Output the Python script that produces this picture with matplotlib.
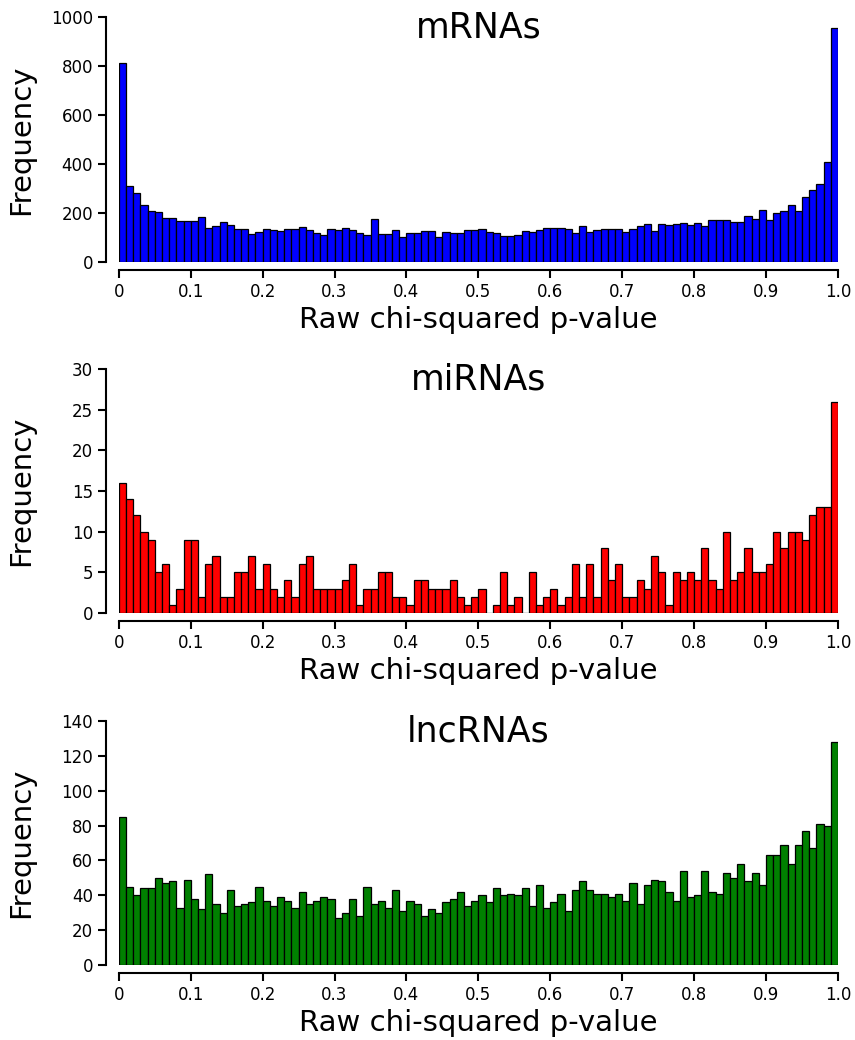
import numpy as np
import matplotlib
matplotlib.use('Agg')
import matplotlib.pyplot as plt

# counts per 0.01 bin of raw chi-squared p-value
mrna_counts = [812, 311, 282, 232, 210, 206, 179, 179, 166, 169,
               166, 186, 141, 149, 164, 153, 134, 134, 115, 124,
               134, 132, 127, 134, 134, 143, 131, 120, 112, 134,
               130, 139, 132, 119, 110, 176, 113, 113, 132, 102,
               120, 119, 127, 126, 102, 123, 119, 120, 132, 132,
               136, 124, 117, 106, 106, 110, 127, 124, 130, 139,
               138, 139, 134, 120, 146, 124, 131, 135, 135, 134,
               124, 136, 146, 157, 127, 154, 151, 157, 161, 150,
               161, 147, 171, 171, 171, 165, 165, 190, 175, 214,
               171, 202, 209, 232, 207, 266, 296, 318, 409, 955]

mirna_counts = [16, 14, 12, 10, 9, 5, 6, 1, 3, 9,
                9, 2, 6, 7, 2, 2, 5, 5, 7, 3,
                6, 3, 2, 4, 2, 6, 7, 3, 3, 3,
                3, 4, 6, 1, 3, 3, 5, 5, 2, 2,
                1, 4, 4, 3, 3, 3, 4, 2, 1, 2,
                3, 0, 1, 5, 1, 2, 0, 5, 1, 2,
                3, 1, 2, 6, 2, 6, 2, 8, 4, 6,
                2, 2, 4, 3, 7, 5, 1, 5, 4, 5,
                4, 8, 4, 3, 10, 4, 5, 8, 5, 5,
                6, 10, 8, 10, 10, 9, 12, 13, 13, 26]

lncrna_counts = [85, 45, 40, 44, 44, 50, 47, 48, 33, 49,
                 38, 32, 52, 35, 30, 43, 34, 35, 36, 45,
                 37, 34, 39, 37, 33, 42, 35, 37, 39, 38,
                 27, 30, 38, 28, 45, 35, 37, 33, 43, 31,
                 37, 35, 28, 32, 30, 36, 38, 42, 34, 37,
                 40, 36, 44, 40, 41, 40, 44, 34, 46, 33,
                 36, 41, 31, 43, 48, 43, 41, 41, 39, 41,
                 37, 47, 35, 46, 49, 48, 42, 37, 54, 39,
                 40, 54, 42, 41, 53, 50, 58, 48, 53, 46,
                 63, 63, 69, 58, 69, 77, 67, 81, 80, 128]

titles = ['mRNAs', 'miRNAs', 'lncRNAs']
colors = ['#0000ff', '#ff0000', '#008000']
ylims = [1000, 30, 140]
ysteps = [200, 5, 20]

edges = np.linspace(0, 1, 101)

fig = plt.figure(figsize=(8.55, 10.4), dpi=100)
boxes = [[0.139, 0.748, 0.841, 0.2355],
         [0.139, 0.4106, 0.841, 0.2345],
         [0.139, 0.0721, 0.841, 0.2346]]

for i, counts in enumerate([mrna_counts, mirna_counts, lncrna_counts]):
    ax = fig.add_axes(boxes[i])
    ax.bar(edges[:-1], counts, width=0.01, align='edge', color=colors[i],
           edgecolor='black', linewidth=0.9)
    ax.set_xlim(0, 1)
    ax.set_ylim(0, ylims[i])
    ax.set_xticks(np.arange(0, 1.01, 0.1))
    ax.set_xticklabels(['0'] + ['%.1f' % v for v in np.arange(0.1, 1.01, 0.1)])
    ax.set_yticks(np.arange(0, ylims[i] + 1, ysteps[i]))
    for s in ['top', 'right']:
        ax.spines[s].set_visible(False)
    ax.spines['left'].set_position(('outward', 9))
    ax.spines['bottom'].set_position(('outward', 6))
    ax.spines['left'].set_linewidth(1.5)
    ax.spines['bottom'].set_linewidth(1.5)
    ax.tick_params(direction='out', length=6, width=1.5, labelsize=12)
    ax.tick_params(axis='x', pad=3)
    ax.set_xlabel('Raw chi-squared p-value', fontsize=21, labelpad=4)
    ax.set_ylabel('Frequency', fontsize=21)
    ax.yaxis.set_label_coords(-0.117, 0.5)
    ax.text(0.5, 0.957, titles[i], transform=ax.transAxes, ha='center',
            va='center', fontsize=25)

fig.savefig('out.png', dpi=100)
